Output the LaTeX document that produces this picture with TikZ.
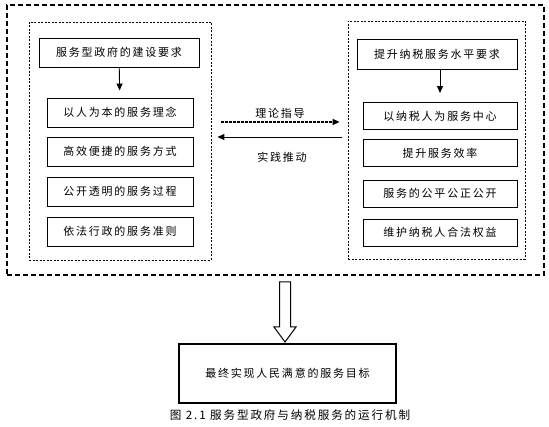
\documentclass[tikz,border=0pt]{standalone}
\usepackage{fontspec}
\setmainfont[LetterSpace=16]{Noto Sans CJK SC}
\usetikzlibrary{arrows.meta}

\tikzset{
  itembox/.style={draw, line width=0.9pt, minimum height=29pt, font=\fontsize{11}{13}\selectfont, inner sep=0pt},
  groupbox/.style={draw, line width=0.8pt, dash pattern=on 2pt off 1.5pt},
  outerbox/.style={draw, line width=1.4pt, dash pattern=on 5pt off 3pt},
  tip/.style={-{Triangle[length=7pt,width=6pt]}, line width=0.9pt}
}

\begin{document}
\begin{tikzpicture}[x=1pt,y=-1pt]
      \useasboundingbox (0,0) rectangle (549,427);
      % outer frame
      \node[outerbox, minimum width=537pt, minimum height=270pt] (outer) at (275.5,140) {};
      % government side
      \begin{scope}
        \node[groupbox, minimum width=182pt, minimum height=238pt] (lin) at (120,141) {};
        \node[itembox, minimum width=160pt] (ltop) at (119,52.5) {服务型政府的建设要求};
        \def\ly{{112.5,151.5,191.5,231.5}}
        \foreach \t [count=\i] in {以人为本的服务理念,高效便捷的服务方式,公开透明的服务过程,依法行政的服务准则} {
          \pgfmathsetmacro\yy{\ly[\i-1]}
          \node[itembox, minimum width=146pt] (l\i) at (120,\yy) {\t};
        }
        \draw[tip, shorten >=7pt] (ltop) -- (l1);
      \end{scope}
      % tax service side
      \begin{scope}
        \node[groupbox, minimum width=177pt, minimum height=238pt] (rin) at (436.5,140) {};
        \node[itembox, minimum width=160pt, minimum height=30pt] (rtop) at (437,54) {提升纳税服务水平要求};
        \def\ry{{116,153,193.5,232.5}}
        \foreach \t [count=\i] in {以纳税人为服务中心,提升服务效率,服务的公平公正公开,维护纳税人合法权益} {
          \pgfmathsetmacro\yy{\ry[\i-1]}
          \node[itembox, minimum width=154pt, minimum height=27pt] (r\i) at (440,\yy) {\t};
        }
        \draw[tip, shorten >=9pt] (rtop.south -| r1) -- (r1);
      \end{scope}
      % links between the two sides
      \coordinate (ga) at ([xshift=10pt]lin.east |- 0,122);
      \coordinate (gb) at ([xshift=-8pt]rin.west |- 0,122);
      \coordinate (pa) at ([xshift=-6pt]rin.west |- 0,137);
      \coordinate (pb) at ([xshift=6pt]lin.east |- 0,137);
      \draw[tip, line width=1.5pt, dash pattern=on 3pt off 1pt] (ga) -- (gb);
      \draw[tip] (pa) -- (pb);
      \node[font=\fontsize{11}{13}\selectfont] (theory) at (280,113) {理论指导};
      \node[font=\fontsize{11}{13}\selectfont] (practice) at (282,157) {实践推动};
      % goal
      \node[draw, line width=1.3pt, minimum width=217pt, minimum height=59pt, font=\fontsize{11}{13}\selectfont] (goal) at (287.5,373.5) {最终实现人民满意的服务目标};
      \draw[line width=1pt] (279.5,282) -- (290.5,282) -- (290.5,327) -- (296,327) -- (285,342)
        -- (274,327) -- (279.5,327) -- cycle;
      \node[font=\fontsize{11.6}{13}\selectfont] (caption) at (290,415) {图 2.1 服务型政府与纳税服务的运行机制};
\end{tikzpicture}
\end{document}
